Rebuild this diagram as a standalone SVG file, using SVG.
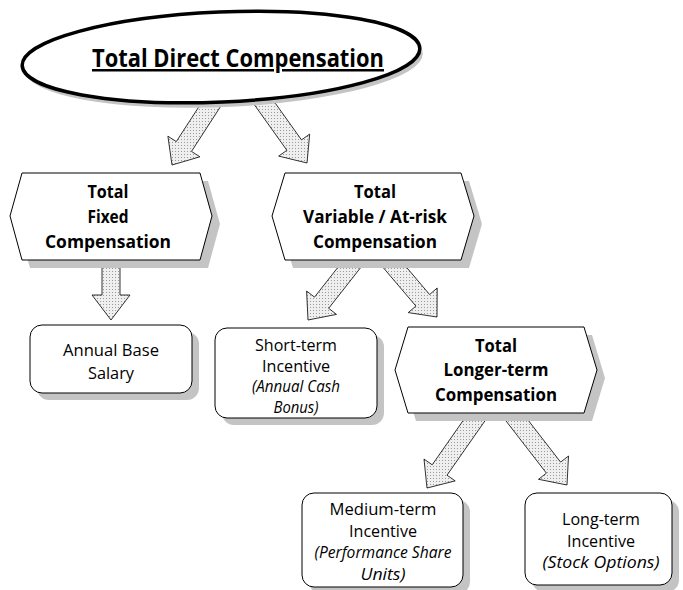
<svg xmlns="http://www.w3.org/2000/svg" width="683" height="590" viewBox="0 0 683 590">
<style>
.b{font-family:"Open Sans","Liberation Sans",sans-serif;font-weight:bold;font-size:18px;fill:#000;text-anchor:middle}
.r{font-family:"Open Sans","Liberation Sans",sans-serif;font-size:17px;fill:#000;text-anchor:middle}
.i{font-style:italic;font-size:16px}
.shape{fill:#fff;stroke:#000;stroke-width:1}
.shadow{fill:#c4c4c4;stroke:none}
.arrow{fill:url(#dots);stroke:#000;stroke-width:0.8;stroke-linejoin:miter}
</style>
<defs>
<pattern id="dots" width="3" height="3" patternUnits="userSpaceOnUse">
<rect width="3" height="3" fill="#efefef"/>
<rect x="1" y="1" width="1" height="1" fill="#9a9a9a"/>
</pattern>
</defs>
<rect width="683" height="590" fill="#fff"/>

<g id="connectors">
<polygon class="arrow" points="221.6,104.9 191.5,151.4 199.9,156.8 172,165 167.9,136.2 176.3,141.6 206.4,95.1"/>
<polygon class="arrow" points="269.3,94.8 301.5,139.9 309.7,134.1 307,163 278.7,156.1 286.9,150.3 254.7,105.2"/>
<polygon class="arrow" points="120,255 120,295 130,295 111,320 92,295 102,295 102,255"/>
<polygon class="arrow" points="370.1,255.6 328.7,308.3 336.5,314.4 308,320 306.6,291 314.5,297.1 355.9,244.4"/>
<polygon class="arrow" points="386.9,244.2 429.6,294.5 437.2,288 437,317 408.2,312.6 415.9,306.1 373.2,255.8"/>
<polygon class="arrow" points="492.4,410.2 447,475.2 455.2,480.9 427,488 424,459.1 432.2,464.8 477.6,399.8"/>
<polygon class="arrow" points="512.1,399.5 560.6,462.1 568.5,456 567,485 538.5,479.3 546.4,473.1 497.9,410.5"/>
</g>

<g id="total-direct">
<ellipse class="shadow" cx="224" cy="62" rx="199" ry="45" transform="rotate(-2.5 224 62)"/>
<ellipse cx="221" cy="57" rx="199" ry="45" transform="rotate(-2.5 221 57)" fill="#fff" stroke="#000" stroke-width="3.5"/>
<text class="b" x="238" y="67" style="font-size:25px" text-decoration="underline" textLength="292" lengthAdjust="spacingAndGlyphs">Total Direct Compensation</text>
</g>

<g id="total-fixed">
<polygon class="shadow" points="30,181 208,181 220,224 208,268 30,268 18,224"/>
<polygon class="shape" points="22,173 200,173 212,216 200,260 22,260 10,216"/>
<text class="b" x="108" y="198" textLength="41" lengthAdjust="spacingAndGlyphs">Total</text>
<text class="b" x="108" y="223" textLength="41" lengthAdjust="spacingAndGlyphs">Fixed</text>
<text class="b" x="108" y="248" textLength="126" lengthAdjust="spacingAndGlyphs">Compensation</text>
</g>

<g id="total-variable">
<polygon class="shadow" points="293,181 469,181 482,224 469,268 293,268 280,224"/>
<polygon class="shape" points="285,173 461,173 474,216 461,260 285,260 272,216"/>
<text class="b" x="375" y="198" textLength="42" lengthAdjust="spacingAndGlyphs">Total</text>
<text class="b" x="375" y="223" textLength="144" lengthAdjust="spacingAndGlyphs">Variable / At-risk</text>
<text class="b" x="375" y="248" textLength="124" lengthAdjust="spacingAndGlyphs">Compensation</text>
</g>

<g id="total-longer">
<polygon class="shadow" points="416,335 592,335 605,378 592,421 416,421 403,378"/>
<polygon class="shape" points="408,327 584,327 597,370 584,413 408,413 395,370"/>
<text class="b" x="496" y="352" textLength="42" lengthAdjust="spacingAndGlyphs">Total</text>
<text class="b" x="496" y="376" textLength="105" lengthAdjust="spacingAndGlyphs">Longer-term</text>
<text class="b" x="496" y="401" textLength="122" lengthAdjust="spacingAndGlyphs">Compensation</text>
</g>

<g id="annual-base">
<rect class="shadow" x="37" y="332" width="162" height="68" rx="12"/>
<rect class="shape" x="30" y="325" width="162" height="68" rx="12"/>
<text class="r" x="111" y="356" textLength="96" lengthAdjust="spacingAndGlyphs">Annual Base</text>
<text class="r" x="111" y="379" textLength="46" lengthAdjust="spacingAndGlyphs">Salary</text>
</g>

<g id="short-term">
<rect class="shadow" x="222" y="335" width="162" height="90" rx="12"/>
<rect class="shape" x="215" y="328" width="162" height="90" rx="12"/>
<text class="r" x="296" y="351" textLength="82" lengthAdjust="spacingAndGlyphs">Short-term</text>
<text class="r" x="296" y="372" textLength="68" lengthAdjust="spacingAndGlyphs">Incentive</text>
<text class="r i" x="296" y="392" textLength="88" lengthAdjust="spacingAndGlyphs">(Annual Cash</text>
<text class="r i" x="296" y="413" textLength="45" lengthAdjust="spacingAndGlyphs">Bonus)</text>
</g>

<g id="medium-term">
<rect class="shadow" x="309" y="500" width="161" height="94" rx="12"/>
<rect class="shape" x="302" y="493" width="161" height="94" rx="12"/>
<text class="r" x="383" y="515" textLength="107" lengthAdjust="spacingAndGlyphs">Medium-term</text>
<text class="r" x="383" y="537" textLength="68" lengthAdjust="spacingAndGlyphs">Incentive</text>
<text class="r i" x="383" y="558" textLength="137" lengthAdjust="spacingAndGlyphs">(Performance Share</text>
<text class="r i" x="383" y="580" textLength="45" lengthAdjust="spacingAndGlyphs">Units)</text>
</g>

<g id="long-term">
<rect class="shadow" x="532" y="500" width="147" height="92" rx="12"/>
<rect class="shape" x="525" y="493" width="147" height="92" rx="12"/>
<text class="r" x="601" y="525" textLength="78" lengthAdjust="spacingAndGlyphs">Long-term</text>
<text class="r" x="601" y="547" textLength="68" lengthAdjust="spacingAndGlyphs">Incentive</text>
<text class="r i" x="601" y="568" textLength="117" lengthAdjust="spacingAndGlyphs">(Stock Options)</text>
</g>
</svg>
